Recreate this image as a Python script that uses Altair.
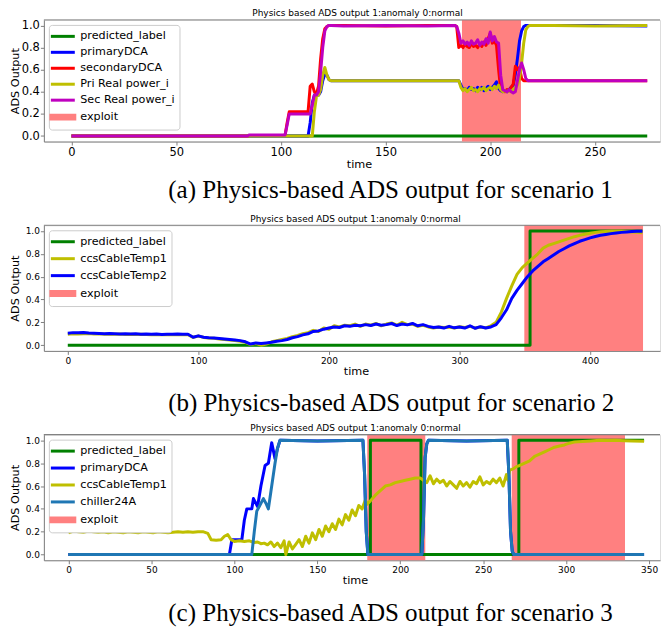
import altair as alt
import pandas as pd

FONT = "DejaVu Sans"
SERIF = "Liberation Serif"
EXPLOIT_COLOR = "#ff8080"
SPINE = "#808080"

# ---------------- Panel (a) : scenario 1 ----------------
a_time = [0, 84, 85, 102, 103, 104, 112, 113, 114, 115, 116, 117, 118, 119, 120, 121, 122, 123, 124, 130, 150, 170, 183,
          184, 185, 186, 187, 188, 189, 190, 191, 192, 193, 194, 195, 196, 197, 198, 199, 200, 201, 202, 203, 204, 205,
          206, 207, 208, 209, 210, 211, 212, 213, 214, 215, 216, 217, 218, 219, 220,
          230, 250, 275]
a_pred = [0.0] * len(a_time)
a_primary = ([0, 0, 0, 0, 0, 0, 0, 0, 0.12, 0.30, 0.37, 0.37, 0.37, 0.40, 0.50, 0.56, 0.55, 0.51, 0.50, 0.50, 0.50, 0.50, 0.50]
             + [0.50, 0.50, 0.46, 0.42, 0.43, 0.41, 0.44, 0.42, 0.43, 0.41, 0.44, 0.42, 0.44, 0.41, 0.43, 0.45, 0.42, 0.44,
                0.46, 0.49, 0.43, 0.41, 0.40, 0.41, 0.40, 0.42, 0.44, 0.46, 0.56, 0.70, 0.86, 0.95, 0.99, 1.0, 1.0, 1.0, 1.0]
             + [1.0, 1.0, 0.995])
a_secondary = ([0, 0, 0.005, 0.005, 0.12, 0.22, 0.22, 0.22, 0.45, 0.47, 0.40, 0.38, 0.45, 0.70, 0.88, 0.97, 0.99, 1.0, 1.0, 1.0, 0.995, 1.0, 1.0]
               + [0.99, 0.80, 0.82, 0.80, 0.83, 0.81, 0.80, 0.84, 0.81, 0.82, 0.80, 0.83, 0.81, 0.85, 0.82, 0.88, 0.93, 0.84,
                  0.86, 0.82, 0.60, 0.42, 0.41, 0.40, 0.42, 0.41, 0.44, 0.47, 0.63, 0.60, 0.62, 0.52, 0.50, 0.50, 0.50, 0.50, 0.50]
               + [0.50, 0.50, 0.50])
a_pri_real = ([0, 0, 0, 0, 0, 0, 0, 0, 0, 0, 0.22, 0.36, 0.37, 0.42, 0.55, 0.62, 0.55, 0.51, 0.50, 0.50, 0.50, 0.50, 0.50]
              + [0.50, 0.50, 0.44, 0.41, 0.43, 0.40, 0.42, 0.44, 0.41, 0.42, 0.40, 0.43, 0.42, 0.44, 0.41, 0.43, 0.44, 0.42,
                 0.45, 0.43, 0.46, 0.42, 0.40, 0.41, 0.40, 0.41, 0.40, 0.42, 0.44, 0.46, 0.52, 0.66, 0.84, 0.96, 0.99, 1.0, 1.0]
              + [1.0, 0.995, 1.0])
a_sec_real = ([0, 0, 0.01, 0.01, 0.10, 0.20, 0.20, 0.20, 0.20, 0.28, 0.37, 0.37, 0.40, 0.58, 0.80, 0.95, 0.99, 1.0, 1.0, 0.995, 1.0, 0.995, 1.0]
              + [0.99, 0.93, 0.84, 0.86, 0.83, 0.85, 0.82, 0.86, 0.83, 0.84, 0.87, 0.82, 0.85, 0.83, 0.88, 0.84, 0.94, 0.86,
                 0.90, 0.85, 0.84, 0.55, 0.42, 0.41, 0.40, 0.42, 0.40, 0.39, 0.40, 0.50, 0.60, 0.66, 0.60, 0.52, 0.50, 0.50, 0.50]
              + [0.50, 0.50, 0.50])
a_exploit = [[186.5, 214.7]]

# ---------------- Panel (b) : scenario 2 ----------------
b_time = list(range(0, 444, 4))
b_temp2 = [0.105, 0.11, 0.108, 0.112, 0.106, 0.104, 0.102, 0.10, 0.103, 0.10,
           0.098, 0.10, 0.097, 0.10, 0.096, 0.098, 0.095, 0.097, 0.094, 0.096,
           0.095, 0.097, 0.095, 0.096, 0.07, 0.082, 0.07, 0.065, 0.062, 0.058,
           0.055, 0.05, 0.045, 0.04, 0.03, 0.01, 0.02, 0.015, 0.02, 0.025,
           0.035, 0.04, 0.05, 0.065, 0.075, 0.09, 0.10, 0.12, 0.125, 0.14,
           0.15, 0.16, 0.155, 0.17, 0.165, 0.175, 0.17, 0.18, 0.172, 0.185,
           0.175, 0.18, 0.19, 0.172, 0.185, 0.178, 0.19, 0.17, 0.18, 0.165,
           0.155, 0.16, 0.15, 0.165, 0.152, 0.16, 0.15, 0.17, 0.148, 0.162,
           0.15, 0.16, 0.18, 0.24, 0.31, 0.41, 0.48, 0.54, 0.60, 0.65,
           0.69, 0.73, 0.76, 0.79, 0.82, 0.845, 0.87, 0.89, 0.91, 0.925,
           0.94, 0.952, 0.962, 0.97, 0.977, 0.983, 0.988, 0.992, 0.995, 0.997,
           0.998]
b_temp1 = [0.095, 0.10, 0.098, 0.10, 0.102, 0.098, 0.10, 0.096, 0.098, 0.095,
           0.097, 0.094, 0.096, 0.093, 0.095, 0.094, 0.092, 0.094, 0.091, 0.093,
           0.092, 0.094, 0.092, 0.093, 0.068, 0.08, 0.068, 0.062, 0.06, 0.055,
           0.05, 0.046, 0.04, 0.035, 0.025, 0.005, 0.015, 0.0, 0.01, 0.03,
           0.04, 0.05, 0.06, 0.075, 0.085, 0.10, 0.11, 0.13, 0.12, 0.15,
           0.14, 0.17, 0.16, 0.175, 0.17, 0.185, 0.165, 0.185, 0.175, 0.19,
           0.17, 0.185, 0.195, 0.175, 0.20, 0.18, 0.185, 0.165, 0.175, 0.16,
           0.15, 0.16, 0.155, 0.16, 0.15, 0.162, 0.155, 0.165, 0.15, 0.16,
           0.152, 0.17, 0.20, 0.29, 0.41, 0.52, 0.62, 0.68, 0.72, 0.76,
           0.80, 0.85, 0.875, 0.89, 0.905, 0.92, 0.935, 0.95, 0.962, 0.972,
           0.98, 0.988, 0.993, 0.996, 0.998, 0.998, 0.997, 0.995, 0.992, 0.988,
           0.985]
b_pred_time = [0, 354, 354, 440]
b_pred = [0, 0, 1, 1]
b_exploit = [[349.6, 440.5]]

# ---------------- Panel (c) : scenario 3 ----------------
c_pred_time = [0, 182, 182, 212.5, 212.5, 271.5, 271.5, 347]
c_pred = [0, 0, 1, 1, 0, 0, 1, 1]
c_primary_time = [0, 97, 98.5, 104.5, 106, 107.5, 110.5, 111.5, 114, 116, 118.5, 120.5, 122.5, 124.5, 126, 127.5, 150,
                  177.5, 178.5, 179.5, 180.5, 213, 214, 215, 216, 217, 240, 264.5, 265.5, 266.5, 267.5, 268.5, 347]
c_primary = [0, 0, 0.13, 0.13, 0.30, 0.40, 0.40, 0.49, 0.42, 0.60, 0.78, 0.80, 0.98, 0.84, 0.93, 1.0, 0.995,
             1.0, 0.7, 0.2, 0, 0, 0.3, 0.85, 0.97, 1.0, 0.995, 1.0, 0.7, 0.2, 0.03, 0, 0]
c_temp1_time = [0, 3, 6, 9, 12, 15, 18, 21, 24, 27, 30, 33, 36, 39, 42, 45, 48, 51, 54, 57, 60, 63, 66, 69, 72, 75, 78, 81,
                84, 86, 89, 92, 94, 96, 98, 100, 103, 106, 109, 112, 114, 116, 118, 120, 122, 124, 126, 128, 130, 131,
                133, 135, 137, 139, 141, 143, 145, 147, 149, 151, 153, 155, 157, 159, 161, 163, 165, 167, 169, 171, 173,
                175, 177, 179, 180, 182, 185, 188, 191, 194, 197, 200, 203, 206, 209, 212,
                214, 216, 218, 220, 222, 224, 226, 228, 230, 232, 234, 236, 238, 240, 242, 244, 246, 248, 250, 252, 254,
                256, 258, 260, 262, 264, 265, 266, 268, 270, 272, 275, 278, 281, 284, 287, 290, 293, 296, 299, 302, 305,
                310, 315, 320, 325, 330, 335, 340, 347]
c_temp1 = [0.19, 0.205, 0.20, 0.195, 0.205, 0.20, 0.195, 0.20, 0.19, 0.20, 0.195, 0.19, 0.20, 0.195, 0.19, 0.20, 0.195,
           0.19, 0.20, 0.195, 0.19, 0.195, 0.20, 0.195, 0.20, 0.195, 0.20, 0.20,
           0.185, 0.13, 0.125, 0.13, 0.16, 0.175, 0.13, 0.115, 0.12, 0.115, 0.12, 0.105, 0.11, 0.095, 0.10, 0.085, 0.11,
           0.07, 0.10, 0.06, 0.12, 0.0,
           0.11, 0.05, 0.09, 0.13, 0.07, 0.16, 0.10, 0.19, 0.13, 0.22, 0.16, 0.25, 0.20, 0.27, 0.22, 0.31, 0.26, 0.35,
           0.30, 0.39, 0.34, 0.43, 0.40, 0.48, 0.44, 0.47, 0.52, 0.56, 0.60, 0.61, 0.63, 0.64, 0.65, 0.66, 0.67, 0.67,
           0.65, 0.63, 0.69, 0.62, 0.66, 0.63, 0.65, 0.60, 0.64, 0.61, 0.58, 0.64, 0.60, 0.63, 0.59, 0.64, 0.62, 0.68,
           0.61, 0.64, 0.62, 0.66, 0.63, 0.67, 0.60, 0.70, 0.65, 0.74, 0.75, 0.77, 0.78, 0.80, 0.82, 0.86, 0.88, 0.90,
           0.92, 0.94, 0.95, 0.96, 0.975, 0.985, 0.99, 0.995, 1.0, 0.998, 1.0, 0.997, 0.995, 0.993]
c_chiller_time = [0, 110.5, 112, 113.5, 115, 117.5, 119, 120.5, 122, 124.5, 126, 127.5, 150, 177.5, 178.5, 179.5, 180.5,
                  213, 214, 215, 216, 217, 240, 264.5, 265.5, 266.5, 267.5, 268.5, 347]
c_chiller = [0, 0, 0.2, 0.38, 0.42, 0.49, 0.45, 0.40, 0.55, 0.80, 0.93, 1.0, 0.995, 1.0, 0.7, 0.2, 0, 0, 0.3, 0.85,
             0.97, 1.0, 0.995, 1.0, 0.7, 0.2, 0.03, 0, 0]
c_exploit = [[180.1, 215.1], [267.2, 335.5]]

SYMBOL_EXPR = ("datum.label === 'exploit' ? 'M-2,-0.33H2V0.33H-2Z' : 'M-2,0H2'")


def build_panel(series, colors, exploit, xdomain, xticks, width, height, lab_fs, ytitle_pad, title_dx, xtitle_x,
                caption, caption_offset, row_pad):
    names = [s[0] for s in series]
    cscale = alt.Scale(domain=names + ["exploit"], range=colors + [EXPLOIT_COLOR])
    legend = alt.Legend(
        title=None, orient="top-left", offset=5, symbolType={"expr": SYMBOL_EXPR}, symbolSize=144,
        symbolStrokeWidth=3, symbolOffset=2.5, labelFont=FONT, labelFontSize=11.2, labelColor="black",
        labelOffset=10, rowPadding=row_pad, padding=4, strokeColor="#cccccc", fillColor="white", cornerRadius=3,
    )
    xscale = alt.Scale(domain=xdomain, nice=False, zero=False)
    yscale = alt.Scale(domain=[-0.05, 1.05], nice=False, zero=False)
    xaxis = alt.Axis(title="time", values=xticks, format="d", grid=False, labelFont=FONT, labelFontSize=lab_fs,
                     titleFont=FONT, titleFontSize=11.3, titleFontWeight="normal", tickSize=3.5, labelPadding=2,
                     titlePadding=0, domainColor=SPINE, tickColor=SPINE, labelColor="black", titleColor="black",
                     titleX=xtitle_x)
    yaxis = alt.Axis(title="ADS Output", values=[0, 0.2, 0.4, 0.6, 0.8, 1.0], format=".1f", grid=False,
                     labelFont=FONT, labelFontSize=lab_fs, titleFont=FONT, titleFontSize=11.3,
                     titleFontWeight="normal", tickSize=3.5, labelPadding=1, titlePadding=ytitle_pad,
                     domainColor=SPINE, tickColor=SPINE, labelColor="black", titleColor="black")

    span_df = pd.DataFrame({"start": [e[0] for e in exploit], "end": [e[1] for e in exploit],
                            "series": ["exploit"] * len(exploit)})
    rect = alt.Chart(span_df).mark_rect().encode(
        x=alt.X("start:Q", scale=xscale, axis=xaxis),
        x2="end:Q",
        y=alt.Y(datum=-0.05, type="quantitative", scale=yscale, axis=yaxis),
        y2=alt.datum(1.05),
        color=alt.Color("series:N", scale=cscale, legend=legend),
    )
    layers = [rect]
    for name, t, v in series:
        df = pd.DataFrame({"t": t, "v": v, "series": name, "i": list(range(len(t)))})
        layers.append(
            alt.Chart(df).mark_line(strokeWidth=3, strokeJoin="round").encode(
                x=alt.X("t:Q", scale=xscale, axis=xaxis),
                y=alt.Y("v:Q", scale=yscale, axis=yaxis),
                color=alt.Color("series:N", scale=cscale, legend=legend),
                order="i:Q",
            )
        )
    spine = alt.Chart(span_df).mark_rule(color=SPINE, strokeWidth=1).encode(
        x=alt.value(0), x2=alt.value(width), y=alt.value(0))
    layers.append(spine)
    layer = alt.layer(*layers).properties(
        width=width, height=height,
        title=alt.TitleParams("Physics based ADS output 1:anomaly 0:normal", font=FONT, fontSize=9,
                              fontWeight="normal", anchor="start", frame="group", dx=title_dx, offset=1,
                              color="black"),
    )
    return alt.vconcat(layer, title=alt.TitleParams(
        caption, orient="bottom", anchor="start", dx=160, font=SERIF, fontSize=25.1, fontWeight="normal",
        offset=caption_offset, color="black")).resolve_scale(color="independent")


pa = build_panel(
    [("predicted_label", a_time, a_pred), ("primaryDCA", a_time, a_primary), ("secondaryDCA", a_time, a_secondary),
     ("Pri Real power_i", a_time, a_pri_real), ("Sec Real power_i", a_time, a_sec_real)],
    ["#008000", "#0000ff", "#ff0000", "#bfbf00", "#bf00bf"], a_exploit,
    [-13.19, 281.1], [0, 50, 100, 150, 200, 250], 618, 122, 11.5, 1, 209, 316,
    "(a) Physics-based ADS output for scenario 1", 8, 2)

pb = build_panel(
    [("predicted_label", b_pred_time, b_pred), ("ccsCableTemp1", b_time, b_temp1), ("ccsCableTemp2", b_time, b_temp2)],
    ["#008000", "#bfbf00", "#0000ff"], b_exploit,
    [-18.3, 453.5], [0, 100, 200, 300, 400], 618, 126, 9, 5, 207, 313,
    "(b) Physics-based ADS output for scenario 2", 14, 3)

pc = build_panel(
    [("predicted_label", c_pred_time, c_pred), ("primaryDCA", c_primary_time, c_primary),
     ("ccsCableTemp1", c_temp1_time, c_temp1), ("chiller24A", c_chiller_time, c_chiller)],
    ["#008000", "#0000ff", "#bfbf00", "#1f77b4"], c_exploit,
    [-14.84, 356.6], [0, 50, 100, 150, 200, 250, 300, 350], 618, 126, 9, 5, 207, 312,
    "(c) Physics-based ADS output for scenario 3", 15, 3)

lower = alt.vconcat(pb, pc, spacing=7).resolve_scale(color="independent")
chart = alt.vconcat(pa, lower, spacing=11).resolve_scale(color="independent").properties(
    padding=0).configure_view(stroke=None).configure(font=FONT)

chart.save("out.html", embed_options={"renderer": "svg", "actions": False})
